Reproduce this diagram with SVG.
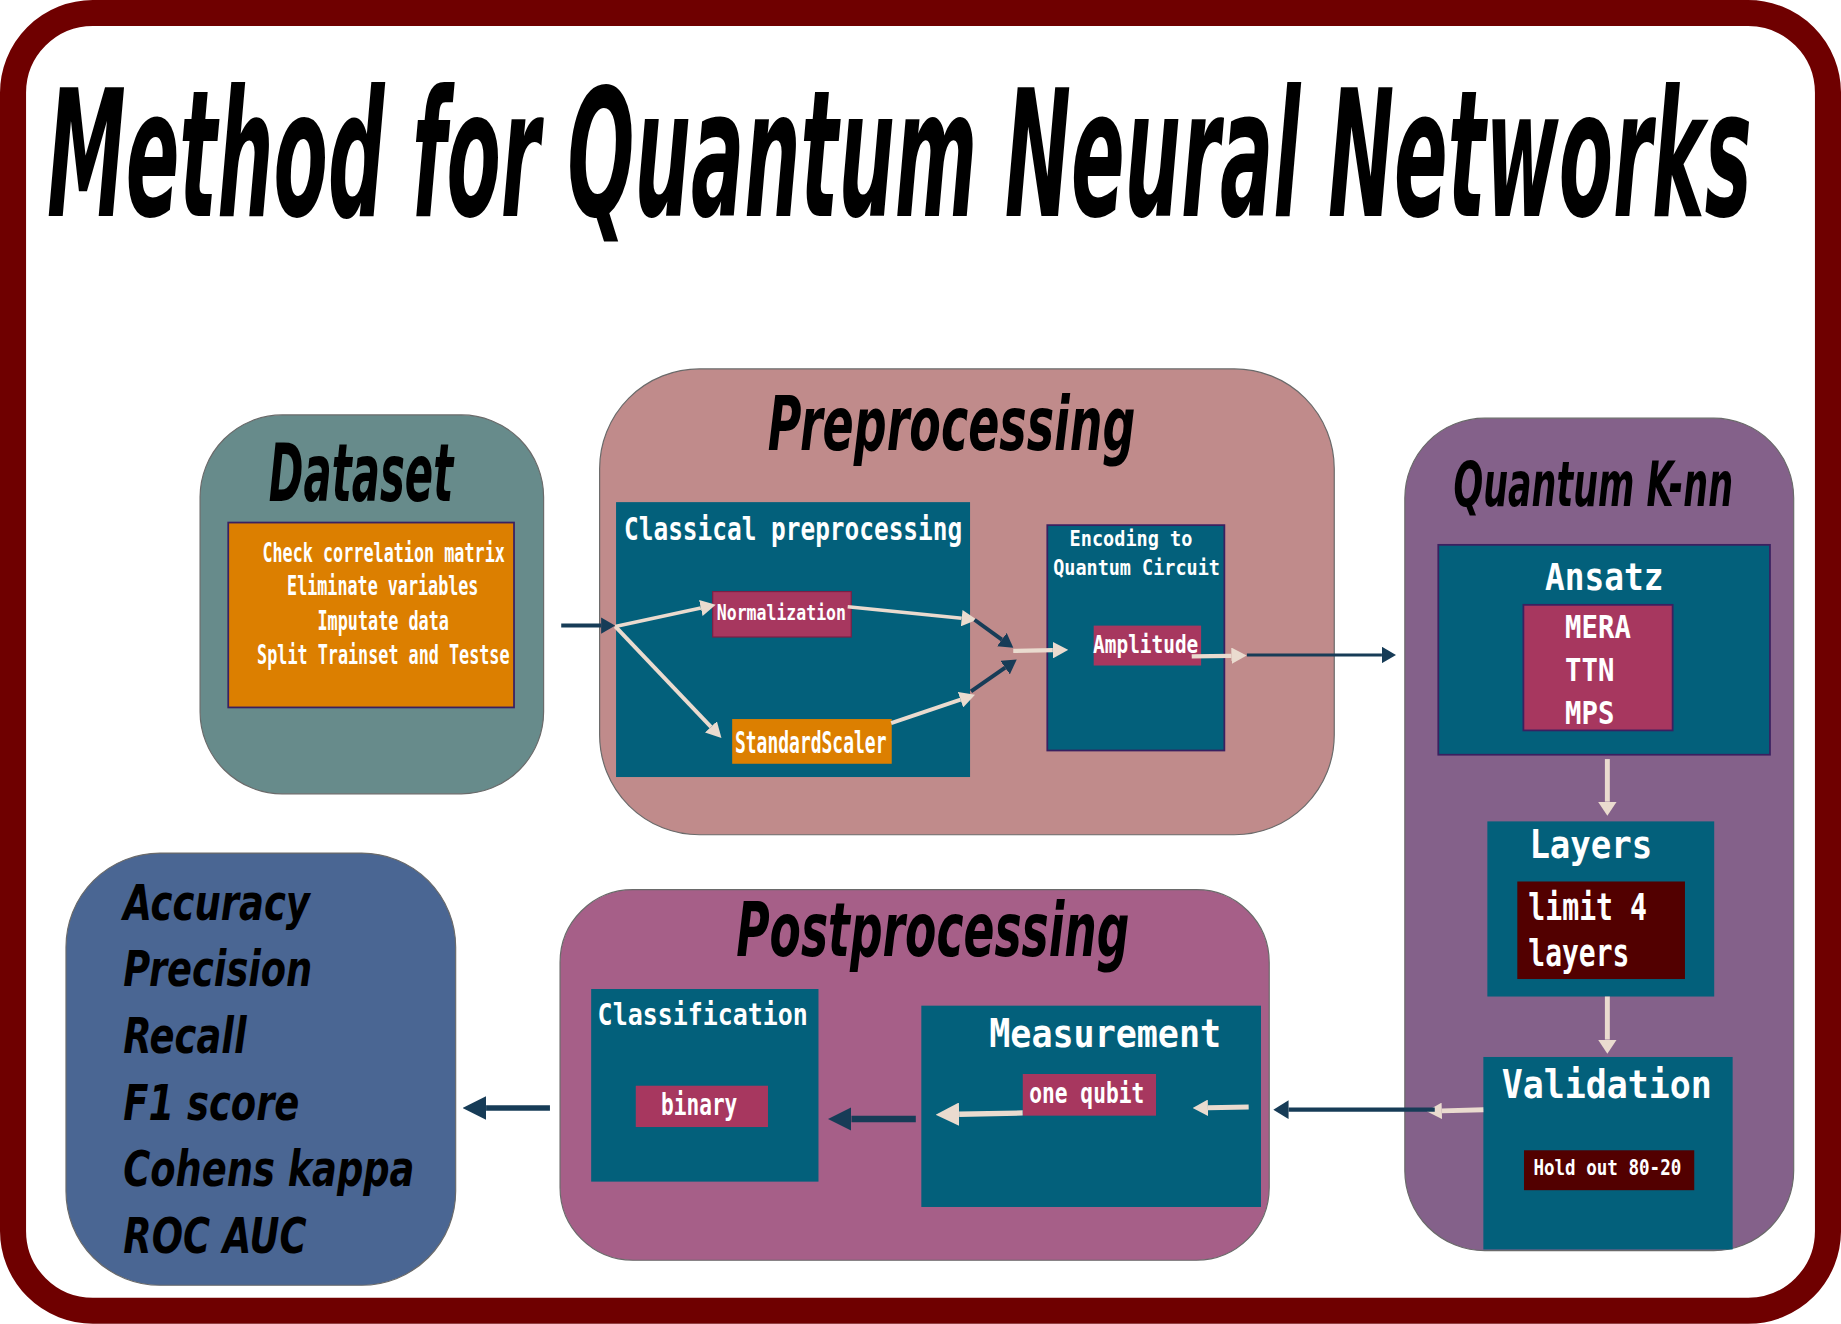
<svg xmlns="http://www.w3.org/2000/svg" width="1841" height="1324" viewBox="0 0 1841 1324">
<style>
.hd{font-family:'DejaVu Sans Condensed','DejaVu Sans',sans-serif;font-weight:bold;font-style:oblique;font-stretch:condensed;fill:#000}
.mono{font-family:'DejaVu Sans Mono','Liberation Mono',monospace;font-weight:bold;fill:#fff}
.teal{fill:#03607b}
.mag{fill:#a7375f}
.orange{fill:#dc7f00}
.maroon{fill:#520000}
.edge{stroke:#3a2060;stroke-width:1.5}
.big{stroke:#6a6a6a;stroke-width:1}
.nv{stroke:#173c57;fill:none}
.bg{stroke:#eadbcf;fill:none}
</style>
<defs>
<marker id="nS" viewBox="0 -7 12 14" refX="0" refY="0" markerWidth="12" markerHeight="14" orient="auto" markerUnits="userSpaceOnUse"><path d="M0,-7 L12,0 L0,7 z" fill="#173c57"/></marker>
<marker id="nM" viewBox="0 -8 13 16" refX="0" refY="0" markerWidth="13" markerHeight="16" orient="auto" markerUnits="userSpaceOnUse"><path d="M0,-8 L13,0 L0,8 z" fill="#173c57"/></marker>
<marker id="nL" viewBox="0 -10 20 20" refX="0" refY="0" markerWidth="20" markerHeight="20" orient="auto" markerUnits="userSpaceOnUse"><path d="M0,-10 L20,0 L0,10 z" fill="#173c57"/></marker>
<marker id="bS" viewBox="0 -7 13 14" refX="0" refY="0" markerWidth="13" markerHeight="14" orient="auto" markerUnits="userSpaceOnUse"><path d="M0,-7 L13,0 L0,7 z" fill="#eadbcf"/></marker>
<marker id="bM" viewBox="0 -8 12 16" refX="0" refY="0" markerWidth="12" markerHeight="16" orient="auto" markerUnits="userSpaceOnUse"><path d="M0,-8 L12,0 L0,8 z" fill="#eadbcf"/></marker>
<marker id="bL" viewBox="0 -10 20 20" refX="0" refY="0" markerWidth="20" markerHeight="20" orient="auto" markerUnits="userSpaceOnUse"><path d="M0,-10 L20,0 L0,10 z" fill="#eadbcf"/></marker>
</defs>
<rect x="0" y="0" width="1841" height="1324" fill="#ffffff"/>
<g transform="scale(1.17411,1.17376)">
<g id="frame">
<rect x="11.1" y="11.1" width="1545.8" height="1105.6" rx="68" ry="68" fill="#ffffff" stroke="#6f0000" stroke-width="22.2"/>
</g>
<g id="title">
<text class="hd" x="40" y="184" font-size="150" textLength="1452" lengthAdjust="spacingAndGlyphs">Method for Quantum Neural Networks</text>
</g>

<g id="dataset">
<rect x="170.4" y="353.5" width="292.6" height="322.8" rx="70" ry="70" fill="#678b8b" class="big"/>
<text class="hd" x="229" y="427" font-size="68" textLength="157" lengthAdjust="spacingAndGlyphs">Dataset</text>
</g>
<g id="dataset-steps">
<rect x="194.4" y="445.2" width="243.4" height="157.5" class="orange edge"/>
<text class="mono" x="223.5" y="478.4" font-size="23" textLength="206.5" lengthAdjust="spacingAndGlyphs">Check correlation matrix</text>
<text class="mono" x="244.5" y="506.8" font-size="23" textLength="163" lengthAdjust="spacingAndGlyphs">Eliminate variables</text>
<text class="mono" x="270.4" y="536.6" font-size="23" textLength="112" lengthAdjust="spacingAndGlyphs">Imputate data</text>
<text class="mono" x="219" y="566" font-size="23" textLength="215" lengthAdjust="spacingAndGlyphs">Split Trainset and Testse</text>
</g>

<g id="preprocessing">
<rect x="510.7" y="314.3" width="625.7" height="396.9" rx="85" ry="85" fill="#c08b8b" class="big"/>
<text class="hd" x="654" y="383" font-size="64" textLength="313" lengthAdjust="spacingAndGlyphs">Preprocessing</text>
</g>
<g id="classical-preprocessing">
<rect x="524.7" y="427.8" width="301.5" height="234.2" class="teal"/>
<text class="mono" x="531.5" y="460" font-size="27.5" textLength="288" lengthAdjust="spacingAndGlyphs">Classical preprocessing</text>
</g>
<g id="normalization">
<rect x="607" y="504" width="118" height="38.7" class="mag" stroke="#7a1f45" stroke-width="1"/>
<text class="mono" x="610.5" y="528.6" font-size="18.6" textLength="110" lengthAdjust="spacingAndGlyphs">Normalization</text>
</g>
<g id="standardscaler">
<rect x="623.6" y="612.6" width="135.9" height="38.1" class="orange"/>
<text class="mono" x="626" y="641.6" font-size="25" textLength="129" lengthAdjust="spacingAndGlyphs">StandardScaler</text>
</g>
<g id="encoding">
<rect x="892" y="447.4" width="150.8" height="192" class="teal edge"/>
<text class="mono" x="911" y="465.6" font-size="18.7" textLength="104.5" lengthAdjust="spacingAndGlyphs">Encoding to</text>
<text class="mono" x="897" y="489.7" font-size="18.7" textLength="142" lengthAdjust="spacingAndGlyphs">Quantum Circuit</text>
</g>
<g id="amplitude">
<rect x="931.5" y="533" width="91.5" height="34" class="mag"/>
<text class="mono" x="931" y="556" font-size="21" textLength="89.6" lengthAdjust="spacingAndGlyphs">Amplitude</text>
</g>

<g id="quantum-knn">
<rect x="1196.5" y="356.3" width="331.2" height="709.2" rx="68" ry="68" fill="#84618a" class="big"/>
<text class="hd" x="1238" y="431.5" font-size="53" textLength="238" lengthAdjust="spacingAndGlyphs">Quantum K-nn</text>
</g>
<g id="ansatz">
<rect x="1225" y="464.2" width="282.5" height="178.8" class="teal edge"/>
<text class="mono" x="1316" y="502.5" font-size="32" textLength="100.7" lengthAdjust="spacingAndGlyphs">Ansatz</text>
</g>
<g id="ansatz-types">
<rect x="1297.5" y="515.3" width="127.1" height="107" class="mag edge"/>
<text class="mono" x="1333" y="543.7" font-size="27" textLength="56" lengthAdjust="spacingAndGlyphs">MERA</text>
<text class="mono" x="1333" y="580.6" font-size="27" textLength="42" lengthAdjust="spacingAndGlyphs">TTN</text>
<text class="mono" x="1333" y="616.6" font-size="27" textLength="42" lengthAdjust="spacingAndGlyphs">MPS</text>
</g>
<g id="layers">
<rect x="1266.8" y="699.8" width="193.2" height="149.2" class="teal"/>
<text class="mono" x="1302.6" y="731" font-size="34" textLength="104.7" lengthAdjust="spacingAndGlyphs">Layers</text>
</g>
<g id="layers-limit">
<rect x="1292.3" y="751" width="142.8" height="83.1" class="maroon"/>
<text class="mono" x="1301.7" y="783.6" font-size="32" textLength="101" lengthAdjust="spacingAndGlyphs">limit 4</text>
<text class="mono" x="1301.7" y="823.3" font-size="32" textLength="86" lengthAdjust="spacingAndGlyphs">layers</text>
</g>
<g id="validation">
<rect x="1263.4" y="900.5" width="212.3" height="164" class="teal"/>
<text class="mono" x="1279" y="935.5" font-size="34" textLength="179" lengthAdjust="spacingAndGlyphs">Validation</text>
</g>
<g id="holdout">
<rect x="1298" y="980" width="145" height="34" class="maroon"/>
<text class="mono" x="1306" y="1000.8" font-size="18.4" textLength="126" lengthAdjust="spacingAndGlyphs">Hold out 80-20</text>
</g>

<g id="postprocessing">
<rect x="477" y="758" width="604" height="315.7" rx="62" ry="62" fill="#a65f88" class="big"/>
<text class="hd" x="627" y="814.2" font-size="63" textLength="335" lengthAdjust="spacingAndGlyphs">Postprocessing</text>
</g>
<g id="classification">
<rect x="503.5" y="842.6" width="193.6" height="164.1" class="teal"/>
<text class="mono" x="509" y="873" font-size="26" textLength="179" lengthAdjust="spacingAndGlyphs">Classification</text>
</g>
<g id="binary">
<rect x="541.5" y="925" width="112.6" height="35.2" class="mag"/>
<text class="mono" x="563" y="949.7" font-size="26" textLength="65" lengthAdjust="spacingAndGlyphs">binary</text>
</g>
<g id="measurement">
<rect x="784.7" y="856.8" width="289.3" height="171.5" class="teal"/>
<text class="mono" x="842.6" y="892" font-size="33" textLength="197.4" lengthAdjust="spacingAndGlyphs">Measurement</text>
</g>
<g id="one-qubit">
<rect x="871.1" y="915" width="113.5" height="35.5" class="mag"/>
<text class="mono" x="876.6" y="939.7" font-size="24" textLength="98" lengthAdjust="spacingAndGlyphs">one qubit</text>
</g>

<g id="metrics">
<rect x="56.2" y="726.8" width="331.9" height="368.2" rx="80" ry="80" fill="#4a6693" class="big"/>
<text class="hd" x="105" y="783.6" font-size="43" textLength="159" lengthAdjust="spacingAndGlyphs">Accuracy</text>
<text class="hd" x="105" y="840.4" font-size="43" textLength="161" lengthAdjust="spacingAndGlyphs">Precision</text>
<text class="hd" x="105" y="897.1" font-size="43" textLength="105" lengthAdjust="spacingAndGlyphs">Recall</text>
<text class="hd" x="105" y="954.5" font-size="43" textLength="150" lengthAdjust="spacingAndGlyphs">F1 score</text>
<text class="hd" x="105" y="1010.7" font-size="43" textLength="248" lengthAdjust="spacingAndGlyphs">Cohens kappa</text>
<text class="hd" x="105" y="1067.5" font-size="43" textLength="156" lengthAdjust="spacingAndGlyphs">ROC AUC</text>
</g>

<g id="connectors">
<line class="nv" x1="478" y1="533" x2="512" y2="533" stroke-width="3.4" marker-end="url(#nS)"/>
<line class="bg" x1="524" y1="533.7" x2="596.9" y2="518" stroke-width="3" marker-end="url(#bS)"/>
<line class="bg" x1="524" y1="533.7" x2="605.5" y2="619.3" stroke-width="3.4" marker-end="url(#bS)"/>
<line class="bg" x1="722" y1="517" x2="819.1" y2="526.7" stroke-width="3" marker-end="url(#bS)"/>
<line class="bg" x1="759" y1="616" x2="818.1" y2="596.1" stroke-width="3.4" marker-end="url(#bS)"/>
<line class="nv" x1="830" y1="528" x2="853.3" y2="544.9" stroke-width="3.4" marker-end="url(#nS)"/>
<line class="nv" x1="827" y1="589" x2="856.1" y2="568.8" stroke-width="3.4" marker-end="url(#nS)"/>
<line class="bg" x1="863" y1="554.5" x2="896.7" y2="553.9" stroke-width="3.6" marker-end="url(#bS)"/>
<line class="bg" x1="1015" y1="559.3" x2="1048.8" y2="558.7" stroke-width="3.6" marker-end="url(#bS)"/>
<line class="nv" x1="1062" y1="558" x2="1177" y2="558" stroke-width="2.6" marker-end="url(#nS)"/>
<line class="bg" x1="1369" y1="646.7" x2="1369" y2="683" stroke-width="4.2" marker-end="url(#bM)"/>
<line class="bg" x1="1369" y1="849" x2="1369" y2="885.7" stroke-width="4.2" marker-end="url(#bM)"/>
<line class="bg" x1="1263.4" y1="945.4" x2="1228" y2="946.4" stroke-width="4.2" marker-end="url(#bS)"/>
<line class="nv" x1="1222" y1="945.4" x2="1097.5" y2="945.4" stroke-width="3.6" marker-end="url(#nM)"/>
<line class="bg" x1="1063.5" y1="943.1" x2="1028.8" y2="943.8" stroke-width="4.2" marker-end="url(#bS)"/>
<line class="bg" x1="871" y1="948.2" x2="816.9" y2="949.3" stroke-width="4.5" marker-end="url(#bL)"/>
<line class="nv" x1="780" y1="953.4" x2="725.2" y2="953.4" stroke-width="5.6" marker-end="url(#nL)"/>
<line class="nv" x1="468.4" y1="944" x2="414" y2="944" stroke-width="4.8" marker-end="url(#nL)"/>
</g>
</g>
</svg>
